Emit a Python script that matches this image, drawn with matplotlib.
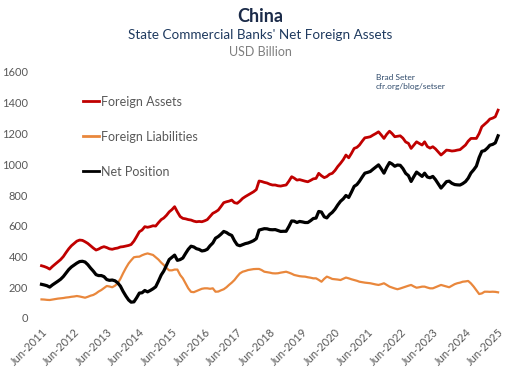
import matplotlib
matplotlib.use("Agg")
import matplotlib.pyplot as plt
import pandas as pd
import numpy as np

plt.rcParams['font.family'] = ['Lato', 'DejaVu Sans']

# Monthly data, Jun-2011 .. Jun-2025 (USD billion)
start_month = "2011-06-01"
foreign_assets = [
    340, 335, 328, 318, 335, 350, 365, 380, 400, 425, 450, 470,
    485, 500, 507, 505, 496, 485, 470, 455, 442, 448, 458, 464,
    458, 450, 447, 452, 455, 462, 464, 468, 472, 478, 500, 529,
    561, 572, 594, 590, 594, 600, 598, 620, 640, 650, 668, 690,
    705, 724, 690, 660, 648, 645, 640, 637, 630, 626, 628, 626,
    632, 640, 660, 681, 690, 702, 725, 750, 756, 760, 767, 750,
    746, 760, 778, 790, 800, 810, 821, 835, 891, 888, 882, 878,
    870, 865, 865, 860, 858, 862, 865, 890, 919, 910, 897, 900,
    895, 890, 886, 895, 905, 908, 941, 925, 913, 920, 935, 941,
    960, 985, 1006, 1030, 1060, 1042, 1070, 1103, 1110, 1125, 1150, 1172,
    1175, 1179, 1190, 1200, 1211, 1190, 1168, 1195, 1215, 1200, 1179, 1182,
    1185, 1170, 1145, 1136, 1103, 1125, 1146, 1135, 1125, 1146, 1115, 1105,
    1114, 1100, 1080, 1060, 1075, 1092, 1090, 1086, 1088, 1092, 1095, 1110,
    1125, 1150, 1168, 1168, 1168, 1200, 1244, 1260, 1276, 1294, 1300, 1309, 1352,
]
foreign_liabilities = [
    121, 120, 118, 117, 120, 123, 126, 128, 130, 133, 135, 138,
    140, 143, 140, 136, 132, 138, 145, 150, 160, 172, 182, 195,
    208, 205, 200, 210, 226, 255, 291, 325, 355, 375, 395, 398,
    399, 408, 415, 420, 415, 410, 395, 380, 360, 345, 325, 310,
    310, 315, 315, 280, 258, 225, 193, 170, 168, 175, 182, 190,
    193, 193, 190, 193, 171, 172, 180, 187, 200, 215, 230, 247,
    270, 290, 301, 306, 312, 315, 318, 319, 319, 312, 301, 298,
    295, 291, 290, 291, 295, 298, 301, 295, 288, 280, 276, 272,
    270, 269, 265, 262, 258, 258, 248, 236, 255, 269, 262, 254,
    252, 250, 247, 255, 263, 258, 252, 247, 242, 236, 233, 230,
    228, 226, 222, 218, 215, 220, 226, 215, 204, 198, 192, 187,
    192, 198, 204, 210, 215, 205, 197, 200, 204, 204, 198, 193,
    193, 200, 208, 215, 210, 205, 200, 210, 220, 226, 230, 236,
    238, 241, 225, 204, 180, 156, 160, 171, 171, 170, 171, 170, 167,
]
series_labels = ["Foreign Assets", "Foreign Liabilities", "Net Position"]
tick_years = list(range(2011, 2026))

dates = pd.date_range(start_month, periods=len(foreign_assets), freq="MS")
assets = np.array(foreign_assets, dtype=float)
liabs = np.array(foreign_liabilities, dtype=float)
net_position = assets - liabs

fig = plt.figure(figsize=(5.2, 3.78), dpi=100)
ax = fig.add_axes([0.075, (378 - 318) / 378, 0.90, (318 - 72) / 378])

ax.plot(dates, assets, color="#C00000", lw=2.0, label=series_labels[0], zorder=3)
ax.plot(dates, liabs, color="#E9873C", lw=1.6, label=series_labels[1], zorder=2)
ax.plot(dates, net_position, color="#000000", lw=2.3, label=series_labels[2], zorder=4)

ax.set_ylim(0, 1600)
ax.set_yticks(range(0, 1601, 200))
left = pd.Timestamp(start_month) - pd.Timedelta(days=28)
right = pd.Timestamp("2025-06-01") + pd.Timedelta(days=100)
ax.set_xlim(left, right)
ticks = [pd.Timestamp(f"{y}-06-01") for y in tick_years]
ax.set_xticks(ticks)
ax.set_xticklabels([f"Jun-{y}" for y in tick_years])

for s in ax.spines.values():
    s.set_visible(False)
ax.tick_params(axis="both", length=0, colors="#595959", labelsize=8)
ax.tick_params(axis="y", pad=8)
for lab in ax.get_xticklabels():
    lab.set_rotation(45)
    lab.set_ha("right")
    lab.set_va("top")
    lab.set_rotation_mode("anchor")
ax.tick_params(axis="x", pad=6)

leg = ax.legend(loc="upper left", bbox_to_anchor=(0.07, 0.95), frameon=False,
                fontsize=9, handlelength=1.3, handletextpad=0.1, labelspacing=1.85,
                labelcolor="#595959")
for h in leg.get_lines():
    h.set_linewidth(2.0)

fig.text(0.5, 1 - 16 / 378, "China", ha="center", va="center", fontsize=13,
         fontweight="bold", color="#1B2B49")
fig.text(0.5, 1 - 35 / 378, "State Commercial Banks' Net Foreign Assets", ha="center",
         va="center", fontsize=9.7, color="#1F3A5F")
fig.text(0.5, 1 - 52 / 378, "USD Billion", ha="center", va="center", fontsize=9,
         color="#7F7F7F")
fig.text(376 / 520, 1 - 82 / 378, "Brad Seter\ncfr.org/blog/setser", ha="left",
         va="center", fontsize=6, color="#2F4A6B", linespacing=1.3)

fig.savefig("out.png", dpi=100)
